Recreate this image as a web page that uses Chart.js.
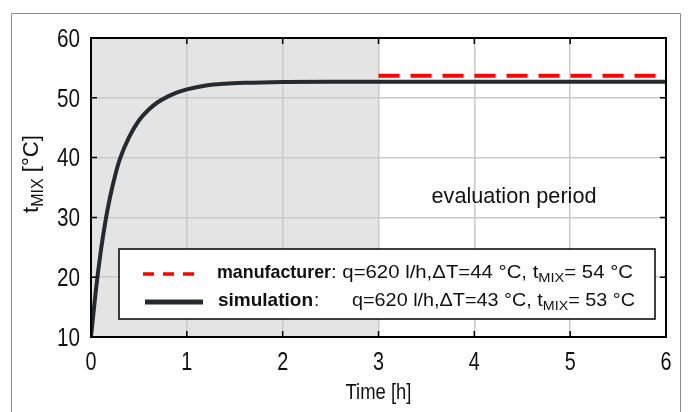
<!DOCTYPE html>
<html>
<head>
<meta charset="utf-8">
<script src="https://cdn.jsdelivr.net/npm/chart.js@4.4.1/dist/chart.umd.min.js"></script>
<style>
  html, body { margin: 0; padding: 0; background: #fff; }
  #wrap { width: 689px; height: 412px; }
</style>
</head>
<body>
<div id="wrap"><canvas id="chartResult" width="689" height="412"></canvas></div>
<script>
// datos
const timeH = [0, 0.05, 0.1, 0.15, 0.2, 0.25, 0.3, 0.4, 0.5, 0.6, 0.7, 0.8, 0.9, 1.0, 1.2, 1.4, 1.6, 2.0, 2.5, 3, 6];
const simTemp = [10, 17.7, 24.1, 29.3, 33.5, 36.9, 39.7, 43.5, 46.2, 48.0, 49.3, 50.2, 50.9, 51.4, 52.05, 52.35, 52.5, 52.65, 52.7, 52.7, 52.7];
const manufTime = [3, 6];
const manufTemp = [53.7, 53.7];
const xTicks = [0, 1, 2, 3, 4, 5, 6];
const yTicks = [10, 20, 30, 40, 50, 60];
const evalStart = 3;

const FONT = "'Liberation Sans', Arial, sans-serif";

function partsWidth(ctx, parts, size) {
    let w = 0;
    parts.forEach((p) => {
        ctx.font = (p.bold ? 'bold ' : '') + (p.sub ? size * 0.72 : size) + 'px ' + FONT;
        w += ctx.measureText(p.t).width;
    });
    return w;
}

// texto con subindice, comprimido/estirado al ancho pedido
function drawFit(ctx, parts, x, y, size, width, align) {
    const natural = partsWidth(ctx, parts, size);
    const k = width ? width / natural : 1;
    const total = natural * k;
    let x0 = x;
    if (align === 'center') x0 = x - total / 2;
    if (align === 'right') x0 = x - total;
    ctx.save();
    ctx.translate(x0, y);
    ctx.scale(k, 1);
    ctx.textAlign = 'left';
    ctx.textBaseline = 'middle';
    let cx = 0;
    parts.forEach((p) => {
        const s = p.sub ? size * 0.72 : size;
        ctx.font = (p.bold ? 'bold ' : '') + s + 'px ' + FONT;
        ctx.fillText(p.t, cx, p.sub ? size * 0.3 : 0);
        cx += ctx.measureText(p.t).width;
    });
    ctx.restore();
}

const decoPlugin = {
    id: 'deco',
    beforeDraw(chart) {
        const { ctx, chartArea: a, scales } = chart;
        ctx.save();
        ctx.fillStyle = '#fff';
        ctx.fillRect(0, 0, chart.width, chart.height);
        // marco exterior
        ctx.strokeStyle = '#8a8a8a';
        ctx.lineWidth = 1;
        ctx.beginPath();
        ctx.moveTo(11.5, 420); ctx.lineTo(11.5, 13.5); ctx.lineTo(680.5, 13.5); ctx.lineTo(680.5, 420);
        ctx.stroke();
        // zona gris antes del periodo de evaluacion
        const x3 = scales.x.getPixelForValue(evalStart);
        ctx.fillStyle = '#e4e4e4';
        ctx.fillRect(a.left, a.top, x3 - a.left, a.bottom - a.top);
        ctx.restore();
    },
    afterDraw(chart) {
        const { ctx, chartArea: a, scales } = chart;
        ctx.save();
        // ticks hacia dentro
        ctx.strokeStyle = '#000';
        ctx.lineWidth = 1.5;
        ctx.beginPath();
        xTicks.forEach((v) => {
            const px = scales.x.getPixelForValue(v);
            ctx.moveTo(px, a.bottom); ctx.lineTo(px, a.bottom - 6);
            ctx.moveTo(px, a.top); ctx.lineTo(px, a.top + 6);
        });
        yTicks.forEach((v) => {
            const py = scales.y.getPixelForValue(v);
            ctx.moveTo(a.left, py); ctx.lineTo(a.left + 6, py);
            ctx.moveTo(a.right, py); ctx.lineTo(a.right - 6, py);
        });
        ctx.stroke();
        ctx.lineWidth = 2;
        ctx.strokeRect(a.left, a.top, a.right - a.left, a.bottom - a.top);

        ctx.fillStyle = '#111';

        // etiquetas de los ejes
        xTicks.forEach((v) => {
            const s = String(v);
            drawFit(ctx, [{ t: s }], scales.x.getPixelForValue(v), 363, 25, 11 * s.length, 'center');
        });
        yTicks.forEach((v) => {
            const s = String(v);
            drawFit(ctx, [{ t: s }], 80, scales.y.getPixelForValue(v) + 2, 25, 11.5 * s.length, 'right');
        });

        // texto periodo de evaluacion
        drawFit(ctx, [{ t: 'evaluation period' }], 514, 197, 22, 165, 'center');

        // titulo eje x
        drawFit(ctx, [{ t: 'Time [h]' }], (a.left + a.right) / 2, 393, 22, 66, 'center');

        // titulo eje y
        ctx.save();
        ctx.translate(32, 174);
        ctx.rotate(-Math.PI / 2);
        drawFit(ctx, [{ t: 't' }, { t: 'MIX', sub: true }, { t: ' [°C]' }], 0, 0, 22, 78, 'center');
        ctx.restore();

        // leyenda
        const lx = 119, ly = 249, lw = 536, lh = 70;
        ctx.fillStyle = '#fff';
        ctx.fillRect(lx, ly, lw, lh);
        ctx.strokeStyle = '#000';
        ctx.lineWidth = 1.5;
        ctx.strokeRect(lx, ly, lw, lh);

        ctx.strokeStyle = '#ff0000';
        ctx.lineWidth = 3.5;
        ctx.setLineDash([11, 9]);
        ctx.beginPath(); ctx.moveTo(143, 274); ctx.lineTo(197, 274); ctx.stroke();
        ctx.setLineDash([]);
        ctx.strokeStyle = '#262a2e';
        ctx.lineWidth = 5;
        ctx.beginPath(); ctx.moveTo(145, 302); ctx.lineTo(203, 302); ctx.stroke();

        ctx.fillStyle = '#111';
        drawFit(ctx, [{ t: 'manufacturer', bold: true }], 217, 273, 19, 114);
        drawFit(ctx, [{ t: ': q=620 l/h,\u0394T=44 °C, t' }, { t: 'MIX', sub: true }, { t: '= 54 °C' }], 331, 273, 19, 302);
        drawFit(ctx, [{ t: 'simulation', bold: true }], 218, 301, 19, 95);
        drawFit(ctx, [{ t: ':' }], 314, 301, 19);
        drawFit(ctx, [{ t: 'q=620 l/h,\u0394T=43 °C, t' }, { t: 'MIX', sub: true }, { t: '= 53 °C' }], 352, 301, 19, 283);
        ctx.restore();
    }
};

const ctx = document.getElementById('chartResult').getContext('2d');
const chartInstance = new Chart(ctx, {
    type: 'line',
    data: {
        datasets: [{
            label: 'simulation',
            data: timeH.map((t, i) => ({ x: t, y: simTemp[i] })),
            borderColor: '#262a2e',
            borderWidth: 4,
            pointRadius: 0,
            cubicInterpolationMode: 'monotone'
        }, {
            label: 'manufacturer',
            data: manufTime.map((t, i) => ({ x: t, y: manufTemp[i] })),
            borderColor: '#ff0000',
            borderWidth: 4,
            borderDash: [21, 11],
            pointRadius: 0
        }]
    },
    options: {
        responsive: false,
        animation: false,
        layout: { padding: { left: 0, right: 23, top: 38, bottom: 0 } },
        plugins: { legend: { display: false }, tooltip: { enabled: false } },
        scales: {
            x: {
                type: 'linear', min: 0, max: 6,
                afterFit(scale) { scale.height = 75; },
                afterBuildTicks(scale) { scale.ticks = xTicks.map((v) => ({ value: v })); },
                border: { display: false },
                grid: { color: '#c9c9c9', lineWidth: 1.5, drawTicks: false },
                ticks: { display: false }
            },
            y: {
                min: 10, max: 60,
                afterFit(scale) { scale.width = 91; },
                afterBuildTicks(scale) { scale.ticks = yTicks.map((v) => ({ value: v })); },
                border: { display: false },
                grid: { color: '#c9c9c9', lineWidth: 1.5, drawTicks: false },
                ticks: { display: false }
            }
        }
    },
    plugins: [decoPlugin]
});
</script>
</body>
</html>
